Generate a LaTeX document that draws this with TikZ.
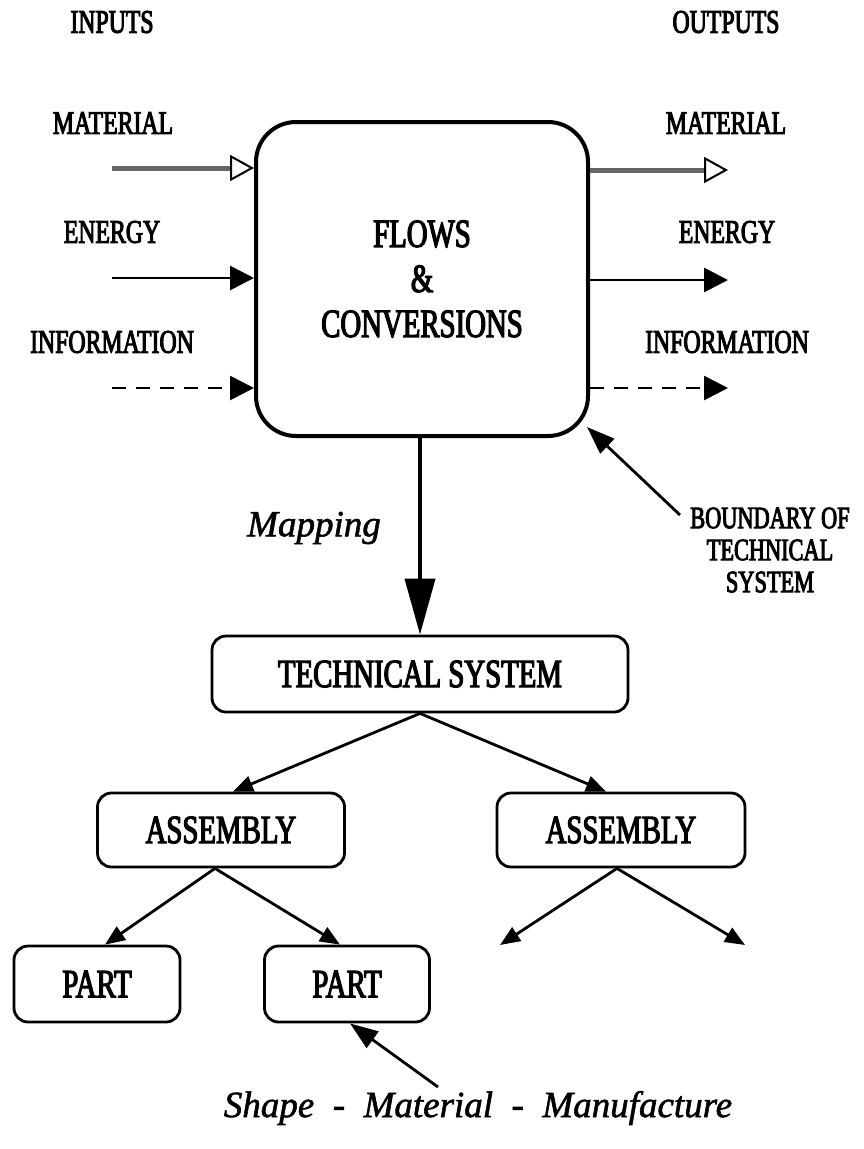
\documentclass[tikz,border=0pt]{standalone}
\usepackage{fontspec}
\setmainfont{Liberation Serif}
\newfontfamily\condfont[FakeStretch=0.72, FakeBold=3]{Liberation Serif}
\newfontfamily\slfont[FakeBold=1.5]{Liberation Serif Italic}
\usetikzlibrary{arrows.meta,calc}

\begin{document}
\begin{tikzpicture}[x=1pt,y=-1pt,
  lbl/.style={font=\condfont\fontsize{33}{35}\selectfont, inner sep=0pt},
  note/.style={font=\condfont\fontsize{31}{32}\selectfont, inner sep=0pt, align=center},
  itl/.style={font=\slfont\fontsize{37}{40}\selectfont, inner sep=0pt},
  rbox/.style={draw, line width=2.8pt, rounded corners=14pt, inner sep=0pt,
    font=\condfont\fontsize{40}{42}\selectfont},
  mainbox/.style={draw, line width=4pt, rounded corners=40pt, inner sep=0pt,
    align=center, font=\condfont\fontsize{40}{45}\selectfont},
  matflow/.style={draw=black!60, line width=5pt,
    -{Triangle[open, length=24pt, width=26pt, line width=2pt, color=black, fill=white]}},
  enflow/.style={line width=2.8pt, -{Triangle[length=24pt, width=24pt]}},
  infoflow/.style={line width=2.8pt, dash pattern=on 14pt off 10pt, -{Triangle[length=24pt, width=24pt]}},
  maparrow/.style={line width=3.8pt, -{Triangle[length=56pt, width=30pt]}},
  treearrow/.style={line width=2.8pt, -{Triangle[length=20pt, width=16pt]}},
  ptr/.style={line width=2.8pt, -{Triangle[length=28pt, width=20pt]}}]

\useasboundingbox (0,0) rectangle (864,1149);

% column headings
\node[lbl] (inputs)  at (112,22) {INPUTS};
\node[lbl] (outputs) at (726,22) {OUTPUTS};

% the system boundary
\node[mainbox, minimum width=332pt, minimum height=314pt] (sys) at (422,279)
  {FLOWS\\\&\\CONVERSIONS};

% input flows
\node[lbl] (inmat)  at (113,123) {MATERIAL};
\node[lbl] (inen)   at (112,232) {ENERGY};
\node[lbl] (ininfo) at (112,342) {INFORMATION};
\coordinate (mi) at (112,168);
\coordinate (ei) at (112,278);
\coordinate (ii) at (112,388);
\draw[matflow]  (mi) -- (sys.west |- mi);
\draw[enflow]   (ei) -- (sys.west |- ei);
\draw[infoflow] (ii) -- (sys.west |- ii);

% output flows
\node[lbl] (outmat)  at (726,123) {MATERIAL};
\node[lbl] (outen)   at (727,232) {ENERGY};
\node[lbl] (outinfo) at (727,342) {INFORMATION};
\coordinate (mo) at (728,170);
\coordinate (eo) at (728,280);
\coordinate (io) at (728,388);
\draw[matflow]  (sys.east |- mo) -- (mo);
\draw[enflow]   (sys.east |- eo) -- (eo);
\draw[infoflow] (sys.east |- io) -- (io);

% boundary remark
\node[note] (bnd) at (770,550) {BOUNDARY OF\\TECHNICAL\\SYSTEM};
\coordinate (bt) at (680,515);
\coordinate (bh) at (587,427);
\draw[ptr] (bt) -- (bh);

% mapping onto the product structure
\node[rbox, minimum width=416pt, minimum height=76pt] (ts) at (420,674) {TECHNICAL SYSTEM};
\draw[maparrow] (sys.south -| ts.north) -- (ts.north);
\node[itl] (map) at (314,528) {Mapping};

\node[rbox, minimum width=247pt, minimum height=74pt] (asmL) at (221,830) {ASSEMBLY};
\node[rbox, minimum width=248pt, minimum height=74pt] (asmR) at (621,830) {ASSEMBLY};
\node[rbox, minimum width=166pt, minimum height=76pt] (partL) at (97,984) {PART};
\node[rbox, minimum width=165pt, minimum height=76pt] (partR) at (347,984) {PART};

\draw[treearrow] (ts.south) -- ($(asmL.north)+(12,0)$);
\draw[treearrow] (ts.south) -- ($(asmR.north)+(-15,0)$);
\draw[treearrow] ($(asmL.south)+(-6,0)$) -- ($(partL.north)+(8,0)$);
\draw[treearrow] ($(asmL.south)+(-6,0)$) -- ($(partR.north)+(-7,0)$);
\coordinate (fl) at (500,945);
\coordinate (fr) at (745,945);
\draw[treearrow] ($(asmR.south)+(-4,0)$) -- (fl);
\draw[treearrow] ($(asmR.south)+(-4,0)$) -- (fr);

% attributes of a part
\node[itl] (attr) at (478,1108) {Shape \ - \ Material \ - \ Manufacture};
\coordinate (at) at (438,1087);
\draw[ptr] (at) -- ($(partR.south)+(3,0)$);

\end{tikzpicture}
\end{document}
